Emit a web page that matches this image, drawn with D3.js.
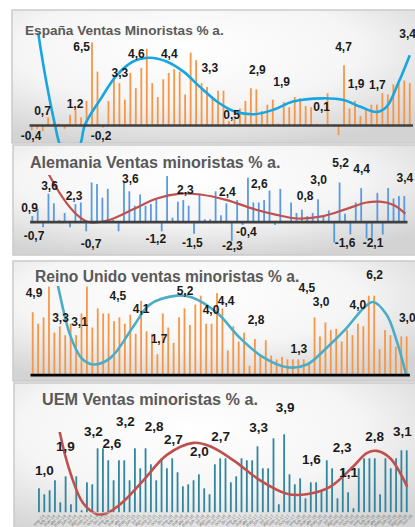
<!DOCTYPE html>
<html>
<head>
<meta charset="utf-8">
<script src="https://cdn.jsdelivr.net/npm/d3@7"></script>
<style>
  body { margin: 0; background: #fff; }
  svg { display: block; font-family: "Liberation Sans", Arial, sans-serif; }
</style>
</head>
<body>
<svg id="chart" width="415" height="527"></svg>
<script>
// periodos mensuales (ene-14 ... oct-19)
const meses = ["ene","feb","mar","abr","may","jun","jul","ago","sep","oct","nov","dic"];
const anios = ["14","15","16","17","18","19"];
const periodos = anios.flatMap(a => meses.map(m => `${m}-${a}`)).slice(0, 70);

// valores % a.
const espana = [-0.4,-0.3,-0.5,0.6,0.2,0.1,-0.3,0.8,1.2,0.6,
  1.9,6.5,4.2,-0.2,1.9,3.8,3.3,2.0,4.1,2.9,
  4.5,6.0,3.3,2.2,3.6,4.1,4.4,4.2,2.4,5.7,
  5.1,3.3,3.0,2.1,2.7,2.7,0.3,0.5,1.3,1.9,
  2.9,2.8,1.1,1.6,2.0,0.1,1.8,1.4,2.2,2.1,
  1.5,1.4,0.1,0.0,2.5,0.0,-0.8,4.7,1.3,1.9,
  0.7,1.3,1.6,1.6,2.5,2.4,3.2,3.3,3.5,3.3];

const alemania = [0.7,1.6,-0.7,3.5,2.3,0.2,1.1,-0.7,2.2,2.4,
  -1.2,4.9,4.7,3.0,4.1,0.2,-1.2,4.9,3.8,2.0,
  3.4,2.0,2.2,2.9,-1.2,5.7,0.5,2.5,2.7,2.0,
  -1.5,3.5,0.3,0.3,3.8,0.8,2.3,-2.4,2.7,-0.4,
  5.5,2.4,2.4,2.7,3.9,-0.4,4.1,0.1,2.4,1.1,
  1.5,0.7,1.1,2.8,0.6,1.4,-2.6,4.9,1.0,-1.6,
  2.4,4.2,-2.1,-2.1,3.6,-1.6,4.2,2.9,3.2,3.2];

const reinoUnido = [4.9,4.0,4.5,6.9,3.3,3.8,3.1,4.0,3.1,4.8,
  6.9,3.7,5.2,4.8,4.8,4.2,4.5,4.0,4.7,3.2,
  5.8,3.4,3.2,1.6,4.8,3.7,2.5,4.5,5.2,3.9,
  5.5,6.2,4.0,4.0,6.4,5.2,1.9,3.8,2.6,3.3,
  0.7,2.8,1.5,2.7,1.5,1.2,1.4,1.2,1.2,1.2,
  1.2,1.0,4.5,3.0,4.1,3.5,3.6,2.6,3.5,3.1,
  4.0,3.8,6.2,6.2,2.0,3.5,3.1,2.2,3.0,3.0];

const uem = [1.2,0.9,1.1,1.6,0.5,1.8,0.4,1.8,0.1,1.5,
  1.4,3.2,3.2,2.6,1.6,2.6,2.6,1.6,3.2,2.2,
  3.2,2.4,1.6,2.7,2.2,2.7,2.0,1.3,1.4,1.6,
  1.9,1.2,0.9,2.4,2.7,2.7,1.5,1.8,2.7,2.6,
  2.6,3.3,2.2,2.2,3.7,0.4,3.9,1.9,1.4,1.7,
  0.7,1.5,1.5,1.1,2.6,2.2,0.7,2.2,1.0,0.2,
  2.2,2.7,2.7,2.7,0.9,2.7,2.2,2.7,3.1,3.1];

// lineas de tendencia (indice de mes, valor)
const tendEspana = [[0,11],[1.2,7.2],[2.7,3.3],[4.25,0],[5.2,-1.6],[7,-2.6],[8.8,-1.6],[9.7,0],
  [12.5,2.0],[15.5,3.9],[18.5,5.0],[21.6,5.3],[24.6,5.0],[27.7,4.2],[30.7,3.0],[33.8,1.85],
  [36.8,1.1],[40.6,0.85],[44.1,1.2],[47.7,1.85],[53,2.1],[56.9,1.97],[59.9,1.45],[63,1.02],
  [64.8,1.45],[66.9,3.3],[69,5.5]];
const tendAlemania = [[2,7.5],[3.15,5.8],[6.4,2.3],[8.85,0.55],[10.8,-0.1],[14.4,0.25],[18.7,1.55],
  [23.1,2.9],[27.4,3.5],[31.1,3.4],[36.1,2.7],[41,1.6],[45.3,0.85],[49.2,0.4],[54,0.7],
  [58.3,1.6],[62,2.4],[64.5,2.5],[67,2.1],[69.2,1.0]];
const tendReinoUnido = [[3.5,9.5],[4.7,6.9],[6.9,3.1],[9,1.3],[11.2,0.8],[14.3,1.3],[18.6,3.8],
  [21.6,5.5],[26.6,6.2],[29.3,6.07],[34,4.85],[38.2,2.9],[42.5,1.37],[46.9,0.58],[50.6,0.8],
  [54.2,2.1],[57.9,3.66],[61,5.2],[62.8,5.7],[65.3,4.7],[67.2,2.6],[68.9,0]];
const tendUem = [[3,5.6],[3.9,4.0],[6.1,1.8],[8.3,0.45],[10.8,-0.08],[12.7,-0.05],[15.8,0.53],
  [19.6,1.6],[24,2.87],[29,3.47],[32.1,3.3],[36.5,2.6],[41.5,1.6],[46.5,0.93],[50.2,0.9],
  [54.6,1.27],[59,2.3],[61.5,2.96],[63.4,3.07],[65.9,2.7],[69.1,1.27]];

// etiquetas de datos: texto y posicion (indice de mes, valor)
const etqEspana = ["-0,4","0,7","1,2","6,5","-0,2","3,3","4,6","4,4","3,3","0,5","2,9","1,9","0,1","4,7","1,9","1,7","3,4"];
const posEspana = [[-0.13,-0.87],[1.97,1.1],[7.9,1.65],[9.1,6.14],[12.65,-0.87],[16.1,4.1],[19.1,5.6],[25.1,5.6],
  [32.5,4.5],[36.5,0.8],[41.2,4.33],[45.6,3.4],[52.9,1.42],[56.9,6.14],[59.2,3.23],[63.1,3.15],[68.6,7.17]];
const etqAlemania = ["0,9","3,6","2,3","3,6","2,3","2,4","2,6","0,8","3,0","5,2","4,4","3,4",
  "-0,7","-0,7","-1,2","-1,5","-2,3","-0,4","-1,6","-2,1"];
const posAlemania = [[-0.52,1.68],[3.19,4.46],[7.74,3.21],[18.2,5.4],[28.4,3.96],[36.2,3.71],[42.1,4.71],
  [50.6,3.21],[53.1,5.21],[57.2,7.4],[61.1,6.55],[69.1,5.46],
  [0.32,-1.79],[10.9,-2.79],[22.9,-2.16],[29.7,-2.66],[37.1,-3.04],[39.7,-1.29],[58,-2.66],[63.2,-2.66]];
const etqReinoUnido = ["4,9","3,3","3,1","4,5","4,1","1,7","5,2","4,0","4,4","2,8","1,3","4,5","3,0","4,0","6,2","3,0"];
const posReinoUnido = [[0.24,6.41],[5.13,4.45],[8.63,4.13],[15.7,6.17],[20,5.15],[23.3,2.8],[28.1,6.56],
  [32.9,5.07],[35.7,5.78],[41.2,4.29],[49.1,2.02],[50.6,6.8],[53.2,5.7],[60,5.47],[63.1,7.82],[69.1,4.45]];
const etqUem = ["1,0","1,9","3,2","2,6","3,2","2,8","2,7","2,0","2,7","3,3","3,9","1,6","2,3","1,1","2,8","3,1"];
const posUem = [[1.03,2.08],[4.97,3.27],[10.2,4.02],[13.7,3.42],[16.2,4.52],[21.6,4.27],[25.2,3.62],
  [30.1,3.02],[34.1,3.77],[41.2,4.22],[46.2,5.22],[51.1,2.62],[56.9,3.22],[58.1,1.97],[63,3.77],[68.2,4.02]];

const titulos = ["España Ventas Minoristas % a.", "Alemania Ventas minoristas % a.",
  "Reino Unido ventas minoristas % a.", "UEM Ventas minoristas % a."];

const paneles = [
  { titulo: titulos[0], valores: espana, tend: tendEspana, etq: etqEspana, pos: posEspana,
    box: [12, 10, 143], xr: [29, 412.5], base: 125, unit: 12.7, top: 33,
    barColor: "#F79646", lineColor: "#16A6E1", lineW: 2.6, axisColor: "#404040",
    tx: 25, ty: 34.5, tSize: 13.6, lSize: 12 },
  { titulo: titulos[1], valores: alemania, tend: tendAlemania, etq: etqAlemania, pos: posAlemania,
    box: [13, 145, 255], xr: [29.6, 407], base: 221.7, unit: 8, top: 175,
    barColor: "#5A9AE0", lineColor: "#C0504D", lineW: 2.2, axisColor: "#404040",
    tx: 30, ty: 168, tSize: 16.1, lSize: 12 },
  { titulo: titulos[2], valores: reinoUnido, tend: tendReinoUnido, etq: etqReinoUnido, pos: posReinoUnido,
    box: [13, 261, 381], xr: [30, 409.4], base: 374.7, unit: 12.75, top: 286,
    barColor: "#F79646", lineColor: "#4BACC6", lineW: 2.6, axisColor: "#000",
    tx: 35, ty: 282, tSize: 15.6, lSize: 12 },
  { titulo: titulos[3], valores: uem, tend: tendUem, etq: etqUem, pos: posUem,
    box: [14, 383, 540], xr: [36.3, 409.4], base: 512.3, unit: 20, top: 432,
    barColor: "#31859C", lineColor: "#C0504D", lineW: 2.6, axisColor: null,
    tx: 42, ty: 405, tSize: 16.2, lSize: 13.5 }
];

const svg = d3.select("#chart");
const defs = svg.append("defs");

const grad = defs.append("radialGradient")
  .attr("id", "fondo").attr("cx", "42%").attr("cy", "30%").attr("r", "75%");
grad.append("stop").attr("offset", "0%").attr("stop-color", "#ffffff");
grad.append("stop").attr("offset", "55%").attr("stop-color", "#f5f5f5");
grad.append("stop").attr("offset", "100%").attr("stop-color", "#d3d3d3");

paneles.forEach((p, k) => {
  const [bx, by, bBottom] = p.box;
  const g = svg.append("g");

  g.append("rect")
    .attr("x", bx).attr("y", by)
    .attr("width", 430 - bx).attr("height", bBottom - by)
    .attr("fill", "url(#fondo)")
    .attr("stroke", "#cacaca").attr("stroke-width", 1.5);

  defs.append("clipPath").attr("id", "clip" + k)
    .append("rect")
    .attr("x", bx).attr("y", p.top)
    .attr("width", 430 - bx).attr("height", bBottom - p.top);

  const x = d3.scaleBand().domain(periodos).range(p.xr);
  const half = x.bandwidth() / 2;
  const xi = d3.scaleLinear()
    .domain([0, periodos.length - 1])
    .range([x(periodos[0]) + half, x(periodos[periodos.length - 1]) + half]);
  const y = d3.scaleLinear().domain([0, 1]).range([p.base, p.base - p.unit]);

  const plot = g.append("g").attr("clip-path", `url(#clip${k})`);

  plot.selectAll(".bar")
    .data(p.valores)
    .enter().append("rect")
    .attr("class", "bar")
    .attr("x", (d, i) => x(periodos[i]) + half - 0.9)
    .attr("width", 1.8)
    .attr("y", d => y(Math.max(0, d)))
    .attr("height", d => Math.abs(y(d) - y(0)))
    .attr("fill", p.barColor);

  // eje horizontal
  const ax = g.append("g")
    .attr("transform", `translate(0,${p.base})`)
    .call(d3.axisBottom(x).tickSize(0).tickFormat(k === 3 ? d => d : ""));
  if (p.axisColor) {
    ax.select(".domain").attr("stroke", p.axisColor).attr("stroke-width", 2.7);
  } else {
    ax.select(".domain").attr("stroke", "#d8d8d8").attr("stroke-width", 0.6);
    ax.selectAll("text")
      .attr("font-size", 4.5)
      .attr("fill", "#777")
      .attr("text-anchor", "end")
      .attr("dx", "0.3em").attr("dy", "0.9em")
      .attr("transform", "rotate(-45)");
  }

  plot.append("path")
    .datum(p.tend)
    .attr("fill", "none")
    .attr("stroke", p.lineColor)
    .attr("stroke-width", p.lineW)
    .attr("d", d3.line().x(d => xi(d[0])).y(d => y(d[1])).curve(d3.curveCatmullRom.alpha(0.5)));

  g.append("text")
    .attr("x", p.tx).attr("y", p.ty)
    .attr("font-size", p.tSize).attr("font-weight", "bold")
    .attr("fill", "#595959")
    .text(p.titulo);

  g.selectAll(".etq")
    .data(p.etq)
    .enter().append("text")
    .attr("class", "etq")
    .attr("x", (d, i) => xi(p.pos[i][0]))
    .attr("y", (d, i) => y(p.pos[i][1]))
    .attr("text-anchor", "middle")
    .attr("dominant-baseline", "central")
    .attr("font-size", p.lSize).attr("font-weight", "bold")
    .attr("fill", "#1a1a1a")
    .text(d => d);
});
</script>
</body>
</html>
